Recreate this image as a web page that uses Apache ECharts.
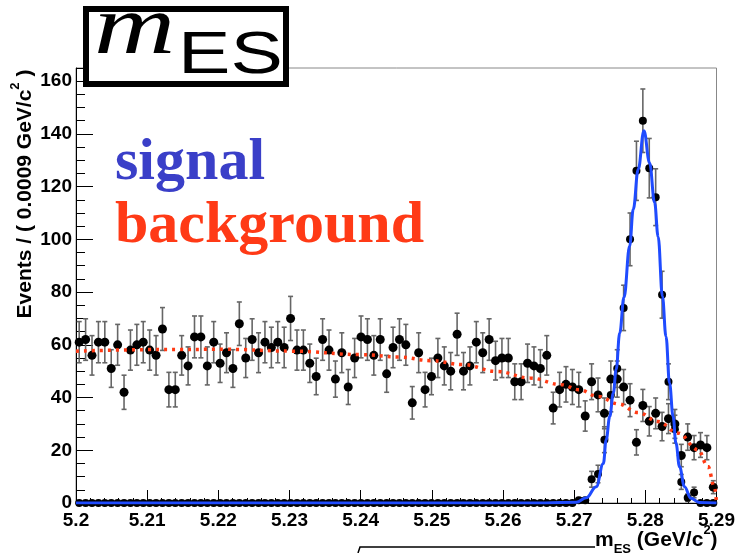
<!DOCTYPE html>
<html>
<head>
<meta charset="utf-8">
<script src="https://cdn.jsdelivr.net/npm/echarts@6/dist/echarts.min.js"></script>
<style>
  html, body { margin: 0; padding: 0; background: #fff; }
  #chart { width: 738px; height: 553px; }
</style>
</head>
<body>
<div id="chart"></div>
<script>
// histogram binning: 100 bins of 0.0009 GeV/c2 from 5.2
const binStart = 5.2;
const binWidth = 0.0009;

// background sample, events per bin
const bkgCounts = [
  61, 62, 56, 61, 61, 51, 60, 42, 58, 60, 61, 58, 56, 66, 43, 43, 56, 52, 63, 63,
  52, 61, 53, 57, 51, 68, 55, 62, 57, 61, 59, 61, 59, 70, 58, 58, 53, 48, 62, 58,
  47, 57, 44, 55, 63, 62, 56, 62, 49, 59, 62, 60, 38, 57, 43, 48, 55, 52, 50, 64,
  50, 52, 61, 57, 62, 54, 55, 55, 46, 46, 53, 52, 51, 56, 36, 43, 45, 44, 43, 33,
  46, 41, 34, 47, 47, 44, 39, 23, 37, 31, 34, 29, 32, 30, 18, 25, 21, 22, 21, 6
];

// signal sample, events per bin
const sigCounts = [
  0, 0, 0, 0, 0, 0, 0, 0, 0, 0, 0, 0, 0, 0, 0, 0, 0, 0, 0, 0,
  0, 0, 0, 0, 0, 0, 0, 0, 0, 0, 0, 0, 0, 0, 0, 0, 0, 0, 0, 0,
  0, 0, 0, 0, 0, 0, 0, 0, 0, 0, 0, 0, 0, 0, 0, 0, 0, 0, 0, 0,
  0, 0, 0, 0, 0, 0, 0, 0, 0, 0, 0, 0, 0, 0, 0, 0, 0, 0, 1, 1,
  9, 11, 24, 41, 51, 74, 100, 126, 145, 127, 116, 79, 46, 28, 8, 2, 4, 0, 0, 0
];

// fitted curves
const sigCurveX = [5.2, 5.266, 5.2703, 5.2717, 5.2731, 5.2741, 5.2745, 5.2750, 5.2755, 5.2759,
  5.2764, 5.2770, 5.2778, 5.2783, 5.2790, 5.2798, 5.2806, 5.2813, 5.2818, 5.2824,
  5.2829, 5.2834, 5.2839, 5.2843, 5.2848, 5.2855, 5.2864, 5.2876, 5.29];
const sigCurveY = [0, 0, 0.3, 2, 6.2, 15, 24, 32.8, 41.7, 50.6,
  64.5, 78, 97.5, 111.4, 126.6, 141.2, 129, 114, 101, 78.4,
  63.2, 45.5, 32.8, 22.7, 13.8, 6.2, 1.8, 0.2, 0];

const bkgCurveX = [5.2, 5.2118, 5.2211, 5.2304, 5.2398, 5.2454, 5.2498, 5.2544, 5.2591, 5.2638,
  5.2682, 5.2706, 5.2734, 5.2762, 5.2790, 5.2818, 5.2846, 5.2874, 5.2888, 5.2897, 5.29];
const bkgCurveY = [57.6, 58.2, 58.3, 57.6, 56.3, 55.4, 54, 52.5, 49.9, 47.4,
  44.9, 43, 40.4, 37.6, 34.3, 30.9, 26.5, 20.2, 13.8, 6.2, 0];

const yTicks = [0, 20, 40, 60, 80, 100, 120, 140, 160];

const binCenter = i => binStart + binWidth * (i + 0.5);
const bkgData = bkgCounts.map((v, i) => [binCenter(i), v]);
const sigData = sigCounts.map((v, i) => [binCenter(i), v]);

const labelFont = { fontFamily: 'Liberation Sans', fontWeight: 'bold', fontSize: 19, color: '#000' };

// poisson error bars, sqrt(N)
function errorBar(params, api) {
  const x = api.value(0);
  const v = api.value(1);
  if (v <= 0) return null;
  const e = Math.sqrt(v);
  const top = api.coord([x, v + e]);
  const bot = api.coord([x, v - e]);
  const st = { stroke: '#666', lineWidth: 1.6 };
  return {
    type: 'group',
    children: [
      { type: 'line', shape: { x1: top[0], y1: top[1], x2: bot[0], y2: bot[1] }, style: st },
      { type: 'line', shape: { x1: top[0] - 2.5, y1: top[1], x2: top[0] + 2.5, y2: top[1] }, style: st },
      { type: 'line', shape: { x1: bot[0] - 2.5, y1: bot[1], x2: bot[0] + 2.5, y2: bot[1] }, style: st }
    ]
  };
}

const chart = echarts.init(document.getElementById('chart'));

chart.setOption({
  animation: false,
  backgroundColor: '#fff',
  grid: {
    left: 76, right: 19, top: 68, bottom: 50,
    show: true, borderColor: '#888', borderWidth: 1
  },
  xAxis: {
    type: 'value',
    min: 5.2,
    max: 5.29,
    interval: 0.01,
    axisLine: { lineStyle: { color: '#000', width: 1 } },
    axisTick: { inside: true, length: 13, lineStyle: { color: '#000' } },
    minorTick: { show: true, splitNumber: 5, length: 5, lineStyle: { color: '#000' } },
    splitLine: { show: false },
    axisLabel: Object.assign({ margin: 8, formatter: v => String(+v.toFixed(2)) }, labelFont)
  },
  yAxis: {
    type: 'value',
    min: 0,
    max: 165,
    interval: 20,
    axisLine: { show: true, lineStyle: { color: '#000', width: 1 } },
    axisTick: { inside: true, length: 17, lineStyle: { color: '#000' } },
    minorTick: { show: true, splitNumber: 4, length: 9, lineStyle: { color: '#000' } },
    splitLine: { show: false },
    axisLabel: Object.assign({
      margin: 4,
      showMaxLabel: false,
      formatter: v => (yTicks.indexOf(v) >= 0 ? String(v) : '')
    }, labelFont)
  },
  series: [
    { type: 'custom', data: bkgData, renderItem: errorBar, z: 2 },
    { type: 'custom', data: sigData, renderItem: errorBar, z: 2 },
    { type: 'scatter', data: bkgData, symbolSize: 9, itemStyle: { color: '#000', opacity: 1 }, z: 3 },
    { type: 'scatter', data: sigData, symbolSize: 8, itemStyle: { color: '#000', opacity: 1 }, z: 3 },
    {
      type: 'line',
      data: bkgCurveX.map((x, i) => [x, bkgCurveY[i]]),
      smooth: 0.4,
      smoothMonotone: 'x',
      showSymbol: false,
      lineStyle: { color: '#ff3a14', width: 3.5, type: [3, 5] },
      z: 4
    },
    {
      type: 'line',
      data: sigCurveX.map((x, i) => [x, sigCurveY[i]]),
      smooth: 0.4,
      smoothMonotone: 'x',
      showSymbol: false,
      lineStyle: { color: '#1f4bff', width: 3 },
      z: 5
    }
  ],
  graphic: [
    {
      type: 'rect', z: 10,
      shape: { x: 86, y: 9, width: 200, height: 75 },
      style: { fill: '#fff', stroke: '#000', lineWidth: 6 }
    },
    {
      type: 'text', z: 11, x: 94, y: 31, scaleX: 1.34,
      style: {
        text: 'm', fill: '#000', align: 'left', verticalAlign: 'middle',
        font: 'italic 84px "Liberation Serif"'
      }
    },
    {
      type: 'text', z: 11, x: 178, y: 56, scaleX: 1.31,
      style: {
        text: 'ES', fill: '#000', align: 'left', verticalAlign: 'middle',
        font: '60px "Liberation Sans"'
      }
    },
    {
      type: 'text', z: 11, x: 115, y: 163,
      style: {
        text: 'signal', fill: '#3a3fc8', align: 'left', verticalAlign: 'middle',
        font: 'bold 60px "Liberation Serif"'
      }
    },
    {
      type: 'text', z: 11, x: 115, y: 226,
      style: {
        text: 'background', fill: '#ff3a16', align: 'left', verticalAlign: 'middle',
        font: 'bold 60px "Liberation Serif"'
      }
    },
    {
      // y axis title, reads bottom to top
      type: 'text', z: 11, x: 25, y: 194, rotation: Math.PI / 2,
      style: {
        text: '{a|Events / ( 0.0009 GeV/c}{s|2}{a| )}',
        align: 'center', verticalAlign: 'middle',
        rich: {
          a: { fontFamily: 'Liberation Sans', fontWeight: 'bold', fontSize: 21, lineHeight: 32, fill: '#000' },
          s: { fontFamily: 'Liberation Sans', fontWeight: 'bold', fontSize: 13, lineHeight: 13, verticalAlign: 'top', fill: '#000' }
        }
      }
    },
    {
      // x axis title
      type: 'text', z: 11, x: 595, y: 540,
      style: {
        text: '{a|m}{b|ES}{a| (GeV/c}{s|2}{a|)}',
        align: 'left', verticalAlign: 'middle',
        rich: {
          a: { fontFamily: 'Liberation Sans', fontWeight: 'bold', fontSize: 21, lineHeight: 32, fill: '#000' },
          b: { fontFamily: 'Liberation Sans', fontWeight: 'bold', fontSize: 13, lineHeight: 13, verticalAlign: 'bottom', fill: '#000' },
          s: { fontFamily: 'Liberation Sans', fontWeight: 'bold', fontSize: 13, lineHeight: 13, verticalAlign: 'top', fill: '#000' }
        }
      }
    },
    {
      // edge of a box cut off at the bottom of the picture
      type: 'polyline', z: 9,
      shape: { points: [[358, 553], [360, 547], [595, 547]] },
      style: { stroke: '#000', lineWidth: 1.5, fill: null }
    }
  ]
});
</script>
</body>
</html>
